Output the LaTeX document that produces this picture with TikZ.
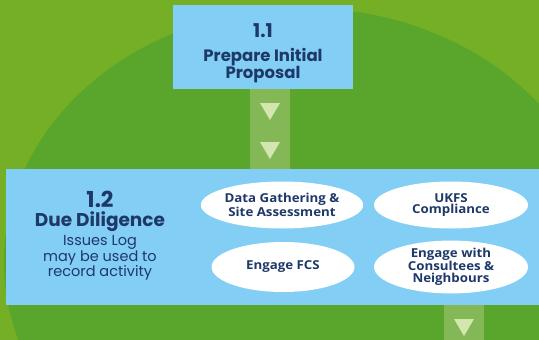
\documentclass[tikz,border=0pt]{standalone}
\usepackage{fontspec}
\setmainfont{Poppins}
\newfontfamily\ellfont{Open Sans}[FakeStretch=1.08]
\definecolor{bglight}{HTML}{74AF26}
\definecolor{bgdark}{HTML}{5AA52C}
\definecolor{boxblue}{HTML}{82CEF5}
\definecolor{strip}{HTML}{84B856}
\definecolor{tri}{HTML}{D4E6B0}
\definecolor{navy}{HTML}{1E3868}
\tikzset{
  titlebox/.style={fill=boxblue, draw=none},
  flowstrip/.style={fill=strip, draw=none},
  flowtri/.style={fill=tri, draw=none},
  task/.style={ellipse, fill=white, draw=none, inner sep=0pt, align=center,
    font=\ellfont\bfseries\fontsize{12.3}{11.8}\selectfont, text=navy},
  ttl/.style={text=navy, align=center, inner sep=0pt}
}
\usetikzlibrary{shapes.geometric}
\begin{document}
\begin{tikzpicture}[x=1pt,y=-1pt]
\useasboundingbox (0,0) rectangle (539,340);
\fill[bglight] (0,0) rectangle (539,340);
\begin{scope}
\clip (0,0) rectangle (539,340);
\fill[bgdark] (304,262) ellipse [x radius=300, y radius=254];
\end{scope}
% top strip and triangles
\fill[flowstrip] (250,89) rectangle (290,169);
\fill[flowtri] (260,103) -- (280,103) -- (270,120) -- cycle;
\fill[flowtri] (260,142) -- (280,142) -- (270,159) -- cycle;
% bottom strip
\fill[flowstrip] (444,305) rectangle (484,340);
\fill[flowtri] (454,319) -- (474,319) -- (464,336) -- cycle;
% box 1.1
\node[titlebox, minimum width=180pt, minimum height=84pt, inner sep=0pt] (b11) at (263,47) {};
\node[ttl, font=\bfseries\fontsize{19}{19}\selectfont] (t11) at (263,31) {1.1};
\node[ttl, font=\bfseries\fontsize{16.5}{17}\selectfont] (p11) at (263,66) {Prepare Initial\\Proposal};
% bar 1.2
\node[titlebox, minimum width=533pt, minimum height=136pt, inner sep=0pt] (b12) at (272.5,237) {};
\node[ttl, font=\bfseries\fontsize{22}{22}\selectfont] (t12) at (100,199) {1.2};
\node[ttl, font=\bfseries\fontsize{18.5}{18.5}\selectfont] (d12) at (100,222) {Due Diligence};
\node[ttl, font=\fontsize{14.5}{15.5}\selectfont] (i12) at (100,258) {Issues Log\\may be used to\\record activity};
% tasks
\node[task, minimum width=141pt, minimum height=47pt] (e1) at (282,205) {Data Gathering \&\\Site Assessment};
\node[task, minimum width=154pt, minimum height=47pt] (e2) at (451,205) {UKFS\\Compliance};
\node[task, minimum width=143pt, minimum height=50pt] (e3) at (283,267) {Engage FCS};
\node[task, minimum width=154pt, minimum height=50pt] (e4) at (451,267) {Engage with\\Consultees \&\\Neighbours};
\end{tikzpicture}
\end{document}
